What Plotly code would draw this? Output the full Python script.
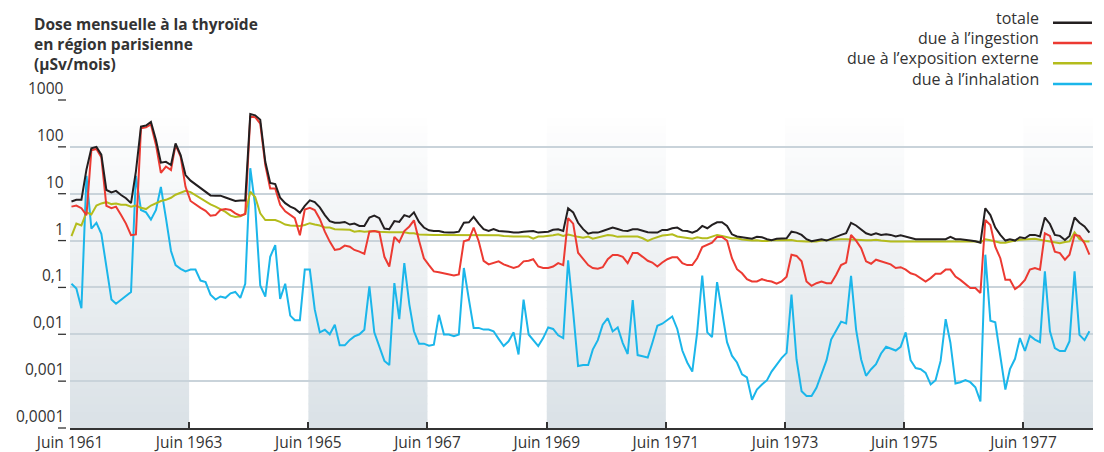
import plotly.graph_objects as go
import pandas as pd
import math

# ---- data (monthly values, µSv/mois), June 1961 -> July 1978 ----
totale = [
    6.8, 7.4, 7.4, 33, 93, 100, 68, 12, 10.7, 11.5,
    9.4, 8.0, 6.3, 30, 270, 285, 340, 140, 46, 48,
    41, 118, 67, 25, 19, 16, 13.5, 11, 9.2, 9.1,
    9.1, 8.3, 7.6, 7.0, 7.2, 7.2, 500, 470, 380, 48,
    17, 16, 8.2, 6.3, 5.3, 4.8, 3.9, 5.5, 7.2, 6.6,
    5.1, 3.5, 2.6, 2.4, 2.4, 2.5, 2.2, 2.3, 2.05, 2.05,
    3.1, 3.4, 3.0, 1.8, 1.75, 2.6, 2.5, 3.5, 3.2, 4.0,
    2.5, 1.9, 1.66, 1.6, 1.6, 1.5, 1.48, 1.48, 1.55, 2.4,
    2.45, 3.2, 2.3, 1.75, 1.6, 1.75, 1.6, 1.6, 1.55, 1.48,
    1.48, 1.55, 1.55, 1.6, 1.48, 1.5, 1.55, 1.7, 1.74, 1.6,
    4.9, 4.0, 2.4, 1.75, 1.4, 1.48, 1.48, 1.6, 1.74, 1.89,
    1.77, 1.63, 1.6, 1.74, 1.74, 1.63, 1.5, 1.48, 1.48, 1.69,
    1.69, 1.83, 1.89, 1.63, 1.6, 1.48, 1.63, 2.05, 1.83, 2.16,
    2.46, 2.46, 2.05, 1.36, 1.22, 1.18, 1.15, 1.1, 1.2, 1.18,
    1.07, 1.02, 1.09, 1.12, 1.12, 1.55, 1.48, 1.32, 1.07, 0.97,
    1.03, 1.07, 1.0, 1.1, 1.22, 1.32, 1.43, 2.4, 2.1, 1.74,
    1.43, 1.32, 1.43, 1.32, 1.36, 1.32, 1.22, 1.3, 1.22, 1.12,
    1.07, 1.07, 1.07, 1.07, 1.07, 1.07, 1.07, 1.2, 1.07, 1.07,
    1.02, 1.0, 0.97, 0.9, 4.9, 3.5, 1.9, 1.32, 1.0, 1.07,
    1.0, 1.18, 1.12, 1.32, 1.32, 1.22, 3.1, 2.26, 1.32, 1.26,
    1.03, 1.26, 3.1, 2.4, 2.0, 1.48,
]

ingestion = [
    5.3, 5.6, 4.9, 3.5, 85, 90, 60, 5.5, 4.9, 5.3,
    3.5, 2.3, 1.3, 1.35, 250, 260, 300, 110, 28, 38,
    32, 110, 62, 14, 7.0, 5.8, 5.0, 4.3, 3.4, 3.5,
    4.5, 4.7, 4.5, 3.8, 3.4, 3.7, 440, 430, 315, 41,
    13, 13, 5.8, 4.2, 3.6, 3.0, 1.3, 4.6, 5.0, 4.5,
    2.9, 1.55, 0.95, 0.63, 0.66, 0.78, 0.74, 0.63, 0.58, 0.52,
    1.55, 1.6, 1.5, 0.45, 0.28, 1.2, 0.93, 1.6, 2.0, 2.7,
    1.0, 0.42, 0.3, 0.22, 0.21, 0.2, 0.185, 0.18, 0.19, 0.97,
    1.05, 1.9, 0.97, 0.37, 0.31, 0.33, 0.36, 0.31, 0.28, 0.26,
    0.28, 0.36, 0.37, 0.4, 0.28, 0.26, 0.26, 0.28, 0.33, 0.3,
    3.0, 2.3, 0.55, 0.4, 0.3, 0.26, 0.25, 0.27, 0.4, 0.49,
    0.49, 0.45, 0.33, 0.54, 0.54, 0.45, 0.37, 0.34, 0.28, 0.34,
    0.4, 0.44, 0.44, 0.33, 0.3, 0.3, 0.42, 0.73, 0.8, 0.9,
    1.19, 1.19, 1.0, 0.42, 0.245, 0.2, 0.15, 0.134, 0.134, 0.15,
    0.139, 0.134, 0.12, 0.134, 0.17, 0.5, 0.47, 0.36, 0.134, 0.108,
    0.123, 0.134, 0.123, 0.123, 0.186, 0.3, 0.34, 1.32, 1.0, 0.69,
    0.36, 0.32, 0.39, 0.36, 0.34, 0.31, 0.26, 0.27, 0.24, 0.2,
    0.186, 0.16, 0.134, 0.158, 0.195, 0.195, 0.24, 0.24, 0.17, 0.145,
    0.12, 0.097, 0.097, 0.076, 2.75, 2.15, 0.74, 0.42, 0.145, 0.145,
    0.092, 0.11, 0.145, 0.24, 0.26, 0.24, 1.43, 1.26, 0.58, 0.54,
    0.39, 0.5, 1.32, 1.26, 0.88, 0.5,
]

externe = [
    1.25, 2.3, 2.1, 4.0, 3.6, 5.6, 6.2, 6.6, 6.0, 6.2,
    5.8, 5.8, 5.3, 5.6, 5.0, 4.7, 5.6, 6.2, 7.0, 7.4,
    8.2, 9.5, 10.5, 11.5, 10.8, 9.3, 8.3, 7.0, 5.9, 5.3,
    4.7, 4.1, 3.4, 3.2, 3.3, 3.7, 11, 8.5, 3.8, 2.75,
    2.75, 2.75, 2.5, 2.2, 2.1, 2.1, 2.05, 2.15, 2.35, 2.2,
    2.1, 1.9, 1.9, 1.75, 1.75, 1.7, 1.7, 1.55, 1.6, 1.55,
    1.6, 1.6, 1.55, 1.5, 1.5, 1.5, 1.5, 1.5, 1.43, 1.43,
    1.35, 1.33, 1.32, 1.32, 1.32, 1.32, 1.32, 1.32, 1.32, 1.32,
    1.32, 1.32, 1.32, 1.32, 1.32, 1.32, 1.3, 1.25, 1.22, 1.22,
    1.22, 1.22, 1.22, 1.1, 1.22, 1.22, 1.25, 1.3, 1.36, 1.25,
    1.35, 1.25, 1.2, 1.15, 1.22, 1.1, 1.16, 1.25, 1.32, 1.28,
    1.2, 1.22, 1.22, 1.22, 1.22, 1.12, 0.98, 1.09, 1.2, 1.28,
    1.32, 1.36, 1.22, 1.17, 1.12, 1.09, 1.17, 1.12, 1.12, 1.22,
    1.32, 1.25, 1.17, 1.12, 1.12, 1.05, 1.03, 1.0, 1.02, 0.98,
    0.98, 1.02, 1.02, 1.03, 1.05, 1.03, 0.98, 0.96, 0.96, 0.96,
    0.95, 1.0, 1.02, 1.04, 1.07, 1.07, 1.07, 1.05, 1.03, 1.02,
    1.02, 1.02, 1.04, 1.0, 0.97, 0.96, 0.96, 0.96, 0.96, 0.95,
    0.95, 0.95, 0.95, 0.95, 0.95, 0.95, 0.95, 0.95, 0.95, 0.95,
    0.95, 0.95, 0.95, 0.92, 1.07, 1.02, 0.95, 0.9, 0.9, 0.96,
    1.0, 1.04, 1.05, 1.07, 1.09, 1.04, 1.0, 0.95, 0.9, 0.88,
    0.93, 0.96, 1.5, 1.07, 0.97, 0.95,
]

inhalation = [
    0.12, 0.095, 0.036, 24, 1.8, 2.4, 1.4, 0.3, 0.055, 0.045,
    0.055, 0.065, 0.08, 24, 4.5, 4.0, 2.8, 4.5, 14, 3.0,
    0.6, 0.3, 0.25, 0.22, 0.24, 0.24, 0.14, 0.13, 0.07, 0.055,
    0.064, 0.06, 0.075, 0.08, 0.06, 0.12, 35, 5.5, 0.11, 0.064,
    0.45, 0.8, 0.057, 0.12, 0.025, 0.02, 0.02, 0.24, 0.24, 0.034,
    0.011, 0.0125, 0.01, 0.016, 0.0058, 0.0058, 0.0076, 0.009, 0.01, 0.0125,
    0.105, 0.011, 0.0056, 0.0027, 0.0022, 0.124, 0.021, 0.33, 0.043, 0.0116,
    0.0063, 0.0063, 0.0057, 0.006, 0.026, 0.0099, 0.0099, 0.0091, 0.0099, 0.26,
    0.055, 0.0137, 0.0137, 0.0126, 0.0126, 0.0116, 0.008, 0.0056, 0.0071, 0.011,
    0.0037, 0.055, 0.0099, 0.0075, 0.0056, 0.0083, 0.014, 0.013, 0.0095, 0.0083,
    0.38, 0.03, 0.0021, 0.0022, 0.0022, 0.0047, 0.0075, 0.016, 0.022, 0.0115,
    0.014, 0.0065, 0.0038, 0.054, 0.0036, 0.0034, 0.0032, 0.0065, 0.0152, 0.0168,
    0.02, 0.024, 0.013, 0.0045, 0.0025, 0.0016, 0.011, 0.18, 0.011, 0.0087,
    0.13, 0.03, 0.0068, 0.0035, 0.0025, 0.0014, 0.0012, 0.0004, 0.00066, 0.00085,
    0.00105, 0.0016, 0.0023, 0.0031, 0.004, 0.07, 0.0029, 0.00061, 0.00048, 0.00048,
    0.00072, 0.0015, 0.0028, 0.0077, 0.0122, 0.0186, 0.017, 0.177, 0.0126, 0.0029,
    0.0013, 0.0018, 0.0023, 0.0039, 0.0054, 0.0049, 0.0045, 0.0054, 0.011, 0.0028,
    0.0019, 0.0018, 0.0015, 0.00085, 0.00105, 0.0027, 0.021, 0.0066, 0.00089, 0.00095,
    0.00105, 0.00095, 0.00074, 0.00037, 0.5, 0.0195, 0.018, 0.0034, 0.00066, 0.0018,
    0.003, 0.0083, 0.0044, 0.0093, 0.0077, 0.0068, 0.22, 0.0116, 0.0051, 0.0044,
    0.0044, 0.0071, 0.22, 0.0097, 0.0075, 0.0116,
]

series_names = ["totale", "due à l’ingestion", "due à l’exposition externe", "due à l’inhalation"]
series_colors = ["#231f20", "#ec3a32", "#b4bc1c", "#1bb6ea"]

tick_years = [1961, 1963, 1965, 1967, 1969, 1971, 1973, 1975, 1977]
tick_labels = ["Juin %d" % y for y in tick_years]
y_tick_vals = [0.0001, 0.001, 0.01, 0.1, 1, 10, 100, 1000]
y_tick_labels = ["0,0001", "0,001", "0,01", "0,1", "1", "10", "100", "1000"]
band_years = [(1961, 1963), (1965, 1967), (1969, 1971), (1973, 1975), (1977, None)]

title_text = "<b>Dose mensuelle à la thyroïde<br>en région parisienne<br>(μSv/mois)</b>"

# ---- build ----
n = len(totale)
dates = pd.date_range("1961-06-01", periods=n, freq="MS") + pd.Timedelta(days=9)
x_start = pd.Timestamp("1961-06-01")
x_end = pd.Timestamp("1978-08-01")

FONT = "'Open Sans', 'Noto Sans', sans-serif"
TXT = "#333333"

fig = go.Figure()
data_order = [(3, inhalation), (2, externe), (1, ingestion), (0, totale)]
for idx, vals in data_order:
    fig.add_trace(go.Scatter(
        x=dates, y=vals, mode="lines", name=series_names[idx],
        line=dict(color=series_colors[idx], width=2), showlegend=False,
        hoverinfo="x+y+name",
    ))

shapes = []
# gradient shaded bands
n_strips = 40
top_c = (255, 255, 255)
bot_c = (218, 225, 230)
band_top = 0.97
for y0, y1 in band_years:
    xa = pd.Timestamp("%d-06-01" % y0)
    xb = pd.Timestamp("%d-06-01" % y1) if y1 else x_end
    for k in range(n_strips):
        f = (k + 0.5) / n_strips  # 0 bottom -> 1 top
        c = tuple(int(round(bot_c[i] + (top_c[i] - bot_c[i]) * f)) for i in range(3))
        shapes.append(dict(
            type="rect", xref="x", yref="paper", layer="below",
            x0=xa, x1=xb, y0=band_top * k / n_strips, y1=band_top * (k + 1) / n_strips + 0.002,
            fillcolor="rgb(%d,%d,%d)" % c, line=dict(width=0),
        ))

# y tick dashes left of the gridlines
for v in y_tick_vals:
    py = (math.log10(v) + 4) / 7
    shapes.append(dict(type="line", xref="paper", yref="paper",
                       x0=-0.0117, x1=-0.0039, y0=py, y1=py,
                       line=dict(color=TXT, width=1.3)))

annotations = []
for v, lab in zip(y_tick_vals, y_tick_labels):
    py = (math.log10(v) + 4) / 7
    annotations.append(dict(xref="paper", yref="paper", x=-0.004, y=py,
                            xanchor="right", yanchor="middle", yshift=12,
                            text=lab, showarrow=False,
                            font=dict(family=FONT, size=15.5, color=TXT)))

annotations.append(dict(xref="paper", yref="paper", x=-0.0371, y=1.272,
                        xanchor="left", yanchor="top", align="left",
                        text=title_text, showarrow=False,
                        font=dict(family=FONT, size=15.5, color=TXT)))

# manual legend: text right, line sample at right
leg_y_px = [22.7, 42.9, 63.3, 84.0]
for name, col, ly in zip(series_names, series_colors, leg_y_px):
    py = (428 - ly) / 328
    annotations.append(dict(xref="paper", yref="paper", x=0.949, y=py,
                            xanchor="right", yanchor="middle", yshift=5,
                            text=name, showarrow=False,
                            font=dict(family=FONT, size=16, color=TXT)))
    shapes.append(dict(type="line", xref="paper", yref="paper",
                       x0=0.9609, x1=0.999, y0=py, y1=py,
                       line=dict(color=col, width=2.5)))

fig.update_layout(
    width=1104, height=452,
    margin=dict(l=70, r=11, t=100, b=24),
    paper_bgcolor="white", plot_bgcolor="white",
    shapes=shapes, annotations=annotations,
    font=dict(family=FONT, size=15.5, color=TXT),
    xaxis=dict(
        range=[x_start, x_end], type="date",
        tickvals=[pd.Timestamp("%d-06-01" % y) for y in tick_years],
        ticktext=tick_labels,
        ticks="inside", ticklen=6, tickwidth=1.5, tickcolor=TXT,
        showline=True, linecolor=TXT, linewidth=1.5,
        showgrid=False, zeroline=False,
        tickfont=dict(family=FONT, size=15.5, color=TXT),
        automargin=False,
    ),
    yaxis=dict(
        type="log", range=[-4, 3],
        tickvals=y_tick_vals, showticklabels=False, ticks="",
        showgrid=True, gridcolor="#c9d3da", gridwidth=1.5,
        zeroline=False, showline=False, automargin=False,
    ),
    showlegend=False,
)

fig.write_html(
    "out.html",
    config={"displayModeBar": False},
    post_script="document.body.style.margin='0px';document.body.style.overflow='hidden';",
)
